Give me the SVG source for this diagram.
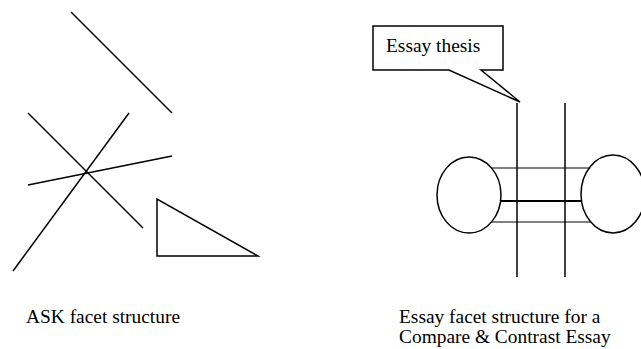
<svg xmlns="http://www.w3.org/2000/svg" width="641" height="349" viewBox="0 0 641 349">
<style>
.s{stroke:#000;stroke-width:1.5;fill:none;stroke-linecap:butt}
.thin{stroke:#000;stroke-width:1;fill:none}
.thick{stroke:#000;stroke-width:2;fill:none}
.t{font-family:"Liberation Serif","Times New Roman",serif;font-size:19.4px;fill:#000}
</style>
<rect width="641" height="349" fill="#fff"/>
<g id="ask-structure">
<line class="s" x1="71" y1="12" x2="172" y2="113"/>
<line class="s" x1="28" y1="113" x2="143" y2="228"/>
<line class="s" x1="129" y1="113" x2="13" y2="271"/>
<line class="s" x1="28" y1="185" x2="172" y2="156"/>
<polygon class="s" points="157,199 157,256 258,256"/>
</g>
<g id="essay-thesis">
<path class="s" d="M373,26 H503 V70 H481 L520,102 L449,70 H373 Z" fill="#fff"/>
<text class="t" x="386" y="52">Essay thesis</text>
</g>
<g id="left-ellipse"><ellipse class="s" cx="469" cy="195" rx="32" ry="38"/></g>
<g id="right-ellipse"><ellipse class="s" cx="613" cy="194" rx="32" ry="39"/></g>
<g id="connectors">
<line class="s" x1="517" y1="103" x2="517" y2="277"/>
<line class="s" x1="565" y1="103" x2="565" y2="277"/>
<line class="thin" x1="492" y1="168" x2="590" y2="168"/>
<line class="thick" x1="501" y1="201" x2="582" y2="201"/>
<line class="thin" x1="492" y1="222" x2="590" y2="222"/>
</g>
<g id="labels">
<text class="t" x="26" y="323">ASK facet structure</text>
<text class="t" x="399" y="323">Essay facet structure for a</text>
<text class="t" x="399" y="343">Compare &amp; Contrast Essay</text>
</g>
</svg>
